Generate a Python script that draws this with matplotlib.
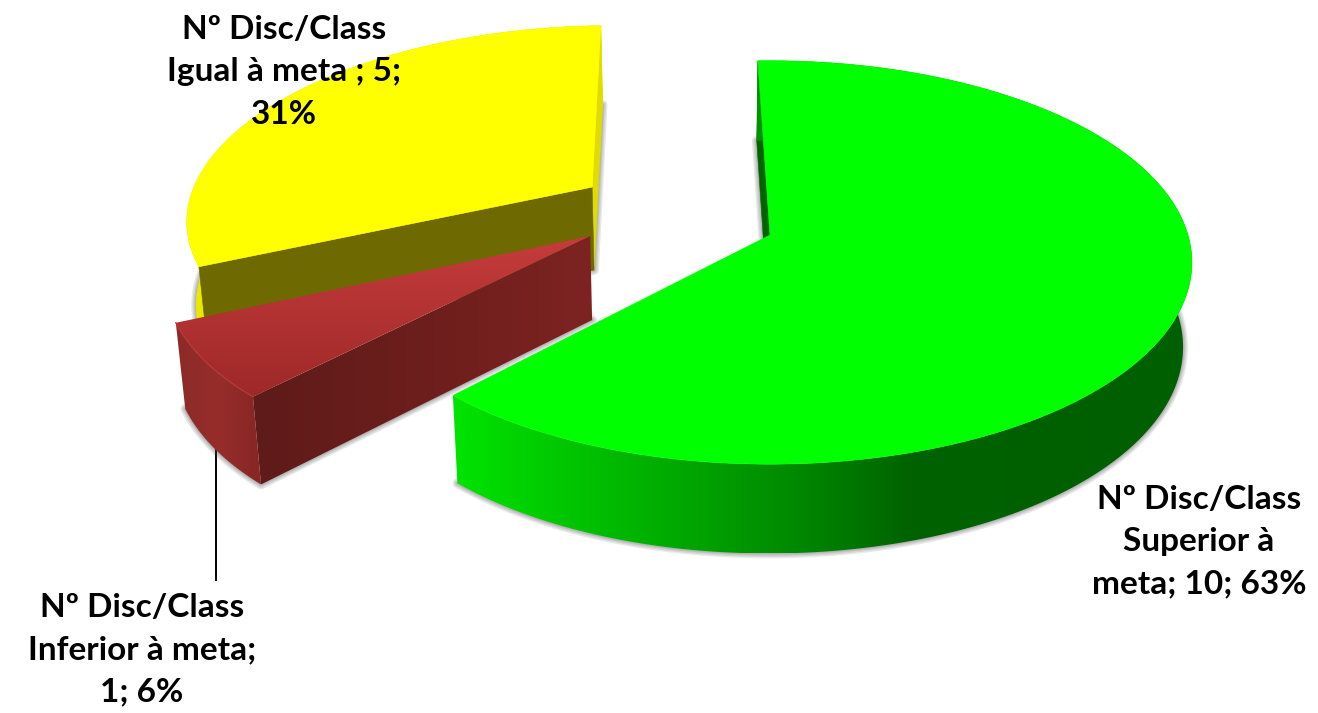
import numpy as np
import matplotlib
matplotlib.use('Agg')
import matplotlib.pyplot as plt
from matplotlib.patches import Polygon

# chart data
categories = ['Superior à meta', 'Inferior à meta', 'Igual à meta']
values = [10, 1, 5]
labels = ['Nº Disc/Class\nSuperior à\nmeta; 10; 63%',
          'Nº Disc/Class\nInferior à meta;\n1; 6%',
          'Nº Disc/Class\nIgual à meta ; 5;\n31%']

# layout of the fake 3D pie (pixels)
CX, CY = 770, 235
A, B, K = 418, 198, 0.136
DEPTH = 84
START = -1.9
offsets = [(0, 0), (-0.43, 0.005), (-0.44, -0.25)]
radii = [1, 1, 0.985]
label_pos = [(1199, 542), (142, 650), (284, 72)]

fig = plt.figure(figsize=(13.18, 7.13), dpi=100)
ax = fig.add_axes([0, 0, 1, 1])
zo = [10]


def next_z():
    zo[0] += 1
    return zo[0]


def project(u, v, low=False):
    u, v = np.asarray(u, float), np.asarray(v, float)
    s = 1 / (1 - K * v)
    x = CX + A * u * s
    y = CY + B * v * s
    if low:
        x = x + (700 - x) * 0.018
        y = y + DEPTH * (1 + 0.4 * (s - 1))
    return np.column_stack([x, y])


def fill_flat(pts, color):
    ax.add_patch(Polygon(pts, closed=True, facecolor=color, edgecolor=color,
                         linewidth=0.4, zorder=next_z()))


def fill_grad(pts, stops, horizontal=True):
    # gradient image clipped by the polygon
    x0, x1 = pts[:, 0].min(), pts[:, 0].max()
    y0, y1 = pts[:, 1].min(), pts[:, 1].max()
    pos = np.linspace(0, 1, 256)
    rgb = np.column_stack([np.interp(pos, [p for p, c in stops], [c[i] / 255 for p, c in stops])
                           for i in range(3)])
    img = rgb[None, :, :] if horizontal else rgb[:, None, :]
    im = ax.imshow(img, extent=(x0, x1, y1, y0), aspect='auto', zorder=next_z(),
                   interpolation='bilinear')
    im.set_clip_path(Polygon(pts, closed=True, transform=ax.transData))


def shadow(pts):
    z = next_z()
    for lw in [7, 5, 3, 1.5]:
        ax.add_patch(Polygon(pts, closed=True, facecolor='none', edgecolor='#505050',
                             alpha=0.13, linewidth=lw, zorder=z, joinstyle='round'))


# slice angles, clockwise from the top
total = sum(values)
sweeps = [v / total * 360 for v in values]
starts = START + np.cumsum([0] + sweeps[:-1])


def slice_points(i):
    th = np.radians(np.linspace(starts[i], starts[i] + sweeps[i], 200))
    du, dv = offsets[i]
    return du + radii[i] * np.sin(th), dv - radii[i] * np.cos(th), du, dv


def draw_yellow():
    u, v, du, dv = slice_points(2)
    top = project(u, v)
    low = project(u, v, True)
    ap, apl = project([du], [dv])[0], project([du], [dv], True)[0]
    shadow(np.vstack([apl, low]))
    fill_flat(np.vstack([top, low[::-1]]), (232 / 255, 232 / 255, 0))
    fill_flat(np.array([top[-1], low[-1], apl, ap]), (225 / 255, 220 / 255, 0))
    fill_flat(np.array([top[0], low[0], apl, ap]), (110 / 255, 105 / 255, 0))
    fill_flat(np.vstack([ap, top]), (1, 1, 0))


def draw_red():
    u, v, du, dv = slice_points(1)
    top = project(u, v)
    low = project(u, v, True)
    ap, apl = project([du], [dv])[0], project([du], [dv], True)[0]
    shadow(np.vstack([apl, low]))
    fill_grad(np.vstack([top, low[::-1]]), [(0, (140, 42, 40)), (0.5, (150, 45, 43)), (1, (135, 38, 36))])
    fill_grad(np.array([top[0], low[0], apl, ap]), [(0, (94, 27, 25)), (0.6, (112, 31, 29)), (1, (125, 36, 34))])
    fill_grad(np.vstack([ap, top]), [(0, (198, 60, 60)), (1, (158, 40, 40))], horizontal=False)
    ax.plot(top[:, 0], top[:, 1], color=(0.72, 0.22, 0.22), lw=0.9, zorder=next_z())


def draw_green():
    u, v, du, dv = slice_points(0)
    top = project(u, v)
    low = project(u, v, True)
    ap, apl = project([du], [dv])[0], project([du], [dv], True)[0]
    shadow(np.vstack([apl, low]))
    fill_flat(np.array([top[0], low[0], apl, ap]), (0, 100 / 255, 0))
    fill_grad(np.vstack([top, low[::-1]]),
              [(0, (0, 228, 0)), (0.27, (0, 175, 0)), (0.47, (0, 135, 0)), (0.62, (0, 98, 0)), (1, (0, 95, 0))])
    fill_flat(np.vstack([ap, top]), (0, 1, 0))


draw_yellow()
draw_red()
draw_green()

# leader line of the small slice
ax.plot([216, 216], [450, 580], color='black', lw=1.4, zorder=5)

for txt, (x, y) in zip(labels, label_pos):
    ax.text(x, y, txt, ha='center', va='center', family='Lato', fontweight='bold',
            fontsize=24, color='black', linespacing=1.55, zorder=100)

ax.set_xlim(0, 1318)
ax.set_ylim(713, 0)
ax.axis('off')
fig.savefig('out.png', dpi=100)
